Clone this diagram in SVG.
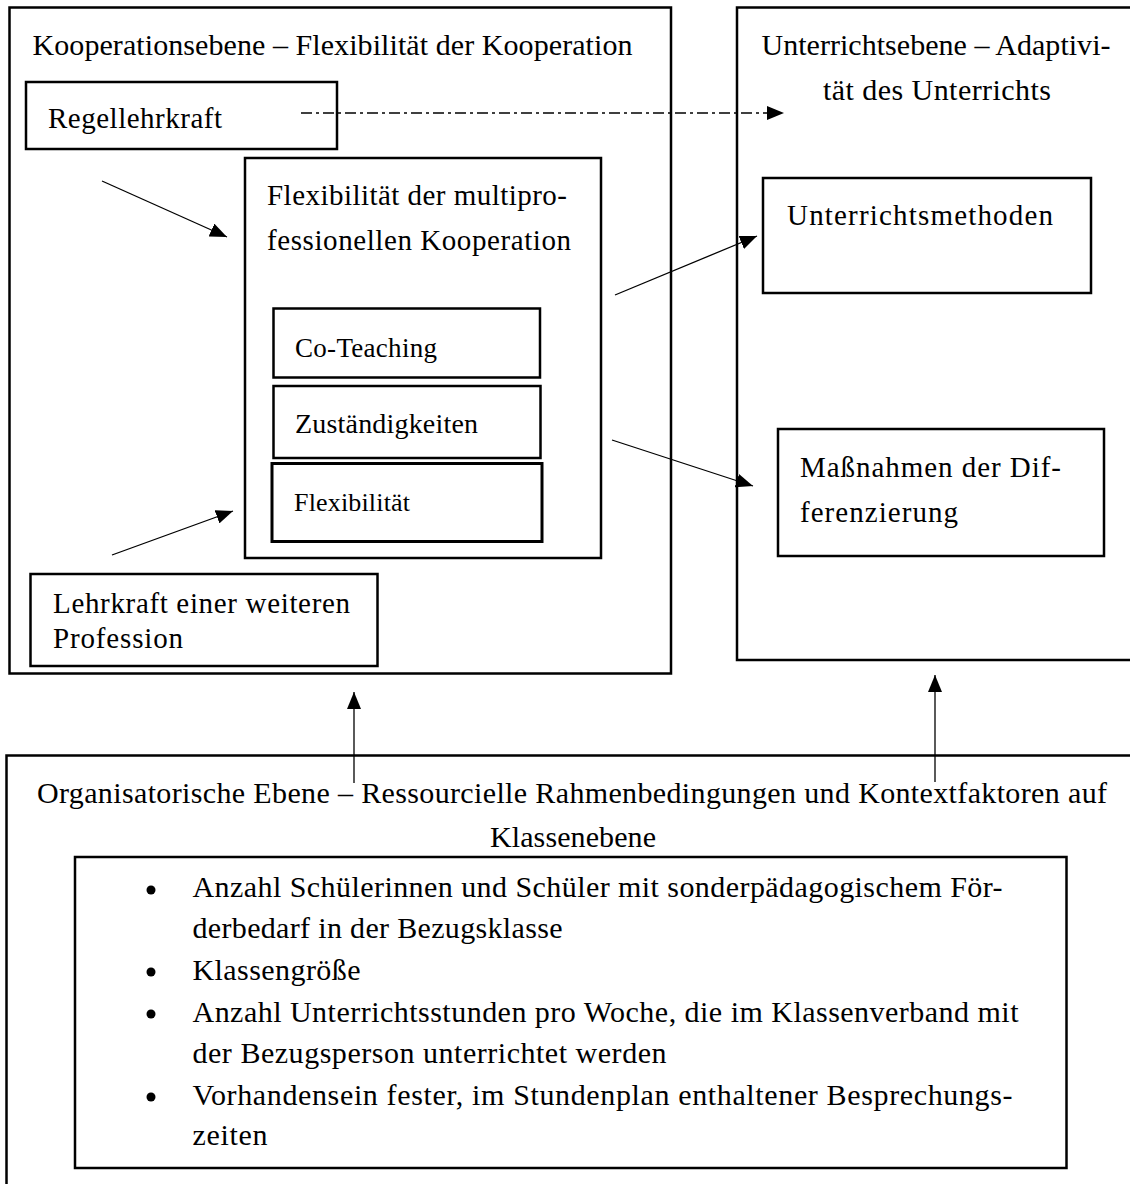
<svg xmlns="http://www.w3.org/2000/svg" width="1130" height="1184" viewBox="0 0 1130 1184">
<style>
  .box { fill: none; stroke: #000; stroke-width: 2.5; }
  .t { font-family: "Liberation Serif", "Times New Roman", serif; fill: #000; }
  .f30 { font-size: 30px; }
  .f29 { font-size: 29px; }
  .f28 { font-size: 28px; }
  .f27 { font-size: 27px; }
  .f26 { font-size: 26px; }
  .conn { stroke: #000; stroke-width: 1.3; fill: none; marker-end: url(#arr); }
  .dashdot { stroke-dasharray: 11 4 3 4; }
</style>
<defs>
  <marker id="arr" markerUnits="userSpaceOnUse" markerWidth="17" markerHeight="14" refX="17" refY="7" orient="auto">
    <path d="M0,0 L17,7 L0,14 z" fill="#000"/>
  </marker>
</defs>
<rect width="1130" height="1184" fill="#fff"/>

<g id="kooperationsebene">
  <rect class="box" x="9.5" y="7.5" width="661.5" height="666"/>
  <text class="t f30" x="32.5" y="55" textLength="600">Kooperationsebene – Flexibilität der Kooperation</text>
</g>

<g id="regellehrkraft">
  <rect class="box" x="26" y="82" width="311" height="67"/>
  <text class="t f29" x="48" y="128" textLength="174">Regellehrkraft</text>
</g>

<g id="flexibilitaet-kooperation">
  <rect class="box" x="245" y="158" width="356" height="400"/>
  <text class="t f29" x="267" y="205" textLength="300">Flexibilität der multipro-</text>
  <text class="t f29" x="267" y="250" textLength="304">fessionellen Kooperation</text>
</g>

<g id="co-teaching">
  <rect class="box" x="273.5" y="308.5" width="266.5" height="69"/>
  <text class="t f27" x="295" y="357" textLength="142">Co-Teaching</text>
</g>

<g id="zustaendigkeiten">
  <rect class="box" x="273.5" y="386" width="267" height="72"/>
  <text class="t f28" x="295" y="433" textLength="183">Zuständigkeiten</text>
</g>

<g id="flexibilitaet">
  <rect class="box" x="272" y="463.5" width="270" height="78" style="stroke-width:3"/>
  <text class="t f26" x="294" y="511" textLength="116">Flexibilität</text>
</g>

<g id="lehrkraft-weitere-profession">
  <rect class="box" x="30.5" y="574" width="347" height="92"/>
  <text class="t f29" x="53" y="613" textLength="297">Lehrkraft einer weiteren</text>
  <text class="t f29" x="53" y="648" textLength="130">Profession</text>
</g>

<g id="unterrichtsebene">
  <rect class="box" x="737" y="7.5" width="420" height="652.5"/>
  <text class="t f30" x="761.5" y="55" textLength="349">Unterrichtsebene – Adaptivi-</text>
  <text class="t f30" x="823" y="100" textLength="228">tät des Unterrichts</text>
</g>

<g id="unterrichtsmethoden">
  <rect class="box" x="763" y="178" width="328" height="115"/>
  <text class="t f29" x="787" y="225" textLength="266">Unterrichtsmethoden</text>
</g>

<g id="massnahmen-differenzierung">
  <rect class="box" x="778" y="429" width="326" height="127"/>
  <text class="t f29" x="800" y="477" textLength="261">Maßnahmen der Dif-</text>
  <text class="t f29" x="800" y="522" textLength="158">ferenzierung</text>
</g>

<g id="organisatorische-ebene">
  <rect class="box" x="6.5" y="755.5" width="1140" height="500"/>
  <text class="t f30" x="37" y="803" textLength="1070">Organisatorische Ebene – Ressourcielle Rahmenbedingungen und Kontextfaktoren auf</text>
  <text class="t f30" x="490" y="847" textLength="166">Klassenebene</text>
</g>

<g id="kontextfaktoren-liste">
  <rect class="box" x="75" y="857" width="991.5" height="311"/>
  <circle cx="151" cy="890" r="4.5" fill="#000"/>
  <circle cx="151" cy="972" r="4.5" fill="#000"/>
  <circle cx="151" cy="1014" r="4.5" fill="#000"/>
  <circle cx="151" cy="1097" r="4.5" fill="#000"/>
  <text class="t f30" x="192.5" y="897" textLength="810">Anzahl Schülerinnen und Schüler mit sonderpädagogischem För-</text>
  <text class="t f30" x="192.5" y="938" textLength="370">derbedarf in der Bezugsklasse</text>
  <text class="t f30" x="192.5" y="980" textLength="168">Klassengröße</text>
  <text class="t f30" x="192.5" y="1022" textLength="826">Anzahl Unterrichtsstunden pro Woche, die im Klassenverband mit</text>
  <text class="t f30" x="192.5" y="1063" textLength="474">der Bezugsperson unterrichtet werden</text>
  <text class="t f30" x="192.5" y="1105" textLength="820">Vorhandensein fester, im Stundenplan enthaltener Besprechungs-</text>
  <text class="t f30" x="192.5" y="1145" textLength="75">zeiten</text>
</g>

<g id="connectors">
  <line class="conn dashdot" x1="301" y1="113" x2="784" y2="113"/>
  <line class="conn" x1="102" y1="181" x2="227" y2="237"/>
  <line class="conn" x1="112" y1="555" x2="233" y2="511"/>
  <line class="conn" x1="615" y1="295" x2="757" y2="236"/>
  <line class="conn" x1="612" y1="440" x2="753" y2="486"/>
  <line class="conn" x1="354" y1="783" x2="354" y2="692"/>
  <line class="conn" x1="935" y1="782" x2="935" y2="675"/>
</g>
</svg>
